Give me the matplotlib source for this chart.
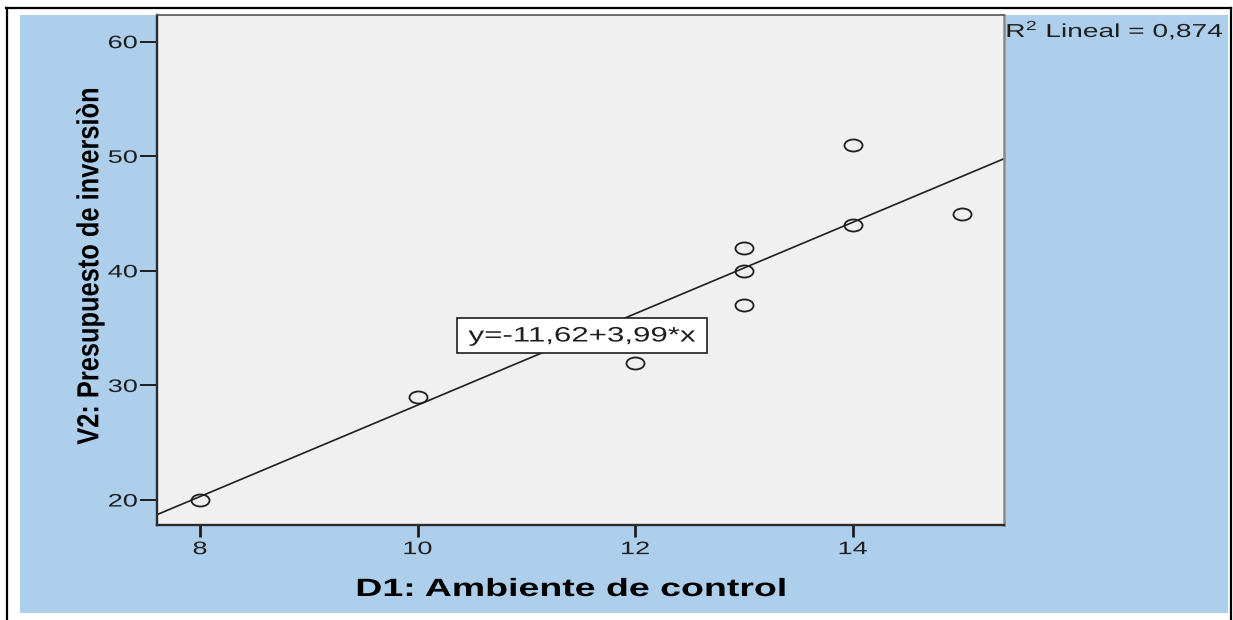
import numpy as np
import matplotlib
matplotlib.use("Agg")
import matplotlib.pyplot as plt
from matplotlib import font_manager
from matplotlib.patches import Rectangle
from matplotlib.lines import Line2D
from matplotlib.path import Path
from matplotlib.transforms import Affine2D
from matplotlib.patheffects import AbstractPathEffect

# --- data -------------------------------------------------------------
ambiente = [8, 10, 12, 13, 13, 13, 14, 14, 15]          # D1: Ambiente de control
presupuesto = [20, 29, 32, 37, 40, 42, 44, 51, 45]     # V2: Presupuesto de inversión
intercept = -11.62
slope = 3.99
r2 = 0.874
x_ticks = [8, 10, 12, 14]
y_ticks = [20, 30, 40, 50, 60]
x_title = "D1: Ambiente de control"
y_title = "V2: Presupuesto de inversiòn"


def comma(v):
    return f"{v:.2f}".replace(".", ",")


eq_label = f"y={comma(intercept)}+{comma(slope)}*x"
r2_label = "R$^{2}$ Lineal = " + f"{r2:.3f}".replace(".", ",")

# --- fonts ------------------------------------------------------------
def has_font(name):
    try:
        font_manager.findfont(font_manager.FontProperties(family=name),
                              fallback_to_default=False)
        return True
    except Exception:
        return False


SANS = "Liberation Sans"
NARROW = "Liberation Sans Narrow" if has_font("Liberation Sans Narrow") else None
plt.rcParams["font.family"] = [SANS, "DejaVu Sans"]
plt.rcParams["mathtext.fontset"] = "custom"
plt.rcParams["mathtext.rm"] = SANS
plt.rcParams["mathtext.it"] = SANS + ":italic"
plt.rcParams["mathtext.bf"] = SANS + ":bold"


class Widen(AbstractPathEffect):
    """Draw glyphs stretched horizontally around a chosen anchor."""

    def __init__(self, factor=1.5, anchor="center"):
        super().__init__()
        self.factor = factor
        self.anchor = anchor

    def draw_path(self, renderer, gc, tpath, affine, rgbFace=None):
        ext = tpath.get_extents(affine)
        if self.anchor == "left":
            x0 = ext.x0
        elif self.anchor == "right":
            x0 = ext.x1
        else:
            x0 = 0.5 * (ext.x0 + ext.x1)
        t = affine + Affine2D().translate(-x0, 0).scale(self.factor, 1.0).translate(x0, 0)
        renderer.draw_path(gc, tpath, t, rgbFace)


WIDE = 1.5
INK = "#1e1e1e"
BLUE = "#aecfec"

W, H = 1233, 620
fig = plt.figure(figsize=(W / 100, H / 100), dpi=100, facecolor="white")

# blue chart panel and black outer frame
fig.add_artist(Rectangle((20 / W, 1 - 613 / H), 1208 / W, 598 / H,
                         transform=fig.transFigure, facecolor=BLUE,
                         edgecolor="none", zorder=0))
frame_kw = dict(transform=fig.transFigure, color="black", lw=1.6, zorder=1)
fig.add_artist(Line2D([6 / W, 1231 / W], [1 - 7.5 / H, 1 - 7.5 / H], **frame_kw))
fig.add_artist(Line2D([7 / W, 7 / W], [0, 1 - 7.5 / H], **frame_kw))
fig.add_artist(Line2D([1230.5 / W, 1230.5 / W], [0, 1 - 7.5 / H], **frame_kw))

ax = fig.add_axes([157 / W, 1 - 525 / H, 847 / W, 510 / H])
ax.set_facecolor("#f0f0f0")
ax.set_xlim(7.605, 15.39)
ax.set_ylim(17.82, 62.33)

# regression line
xs = np.array(ax.get_xlim())
ax.plot(xs, intercept + slope * xs, color=INK, lw=1.2, zorder=2, solid_capstyle="butt")

# hollow markers, widened like the rest of the chart
ellipse = Path.unit_circle().transformed(Affine2D().scale(WIDE, 1.0))
ax.plot(ambiente, presupuesto, linestyle="none", marker=ellipse, markersize=13,
        markerfacecolor="none", markeredgecolor=INK, markeredgewidth=1.3, zorder=3)

# equation label in a white box
ax.add_patch(Rectangle((10.362, 32.84), 12.66 - 10.362, 35.89 - 32.84,
                       facecolor="white", edgecolor=INK, lw=1.2, zorder=4))
ax.text((10.362 + 12.66) / 2, (32.84 + 35.89) / 2 - 0.05, eq_label, fontsize=15,
        ha="center", va="center", color=INK, zorder=5,
        path_effects=[Widen(WIDE, "center")])

# R² note outside the plot area
fig.text(1006 / W, 1 - 37 / H, r2_label, fontsize=13.5, ha="left", va="baseline",
         color=INK, path_effects=[Widen(WIDE, "left")])

# axes styling
for side, col, lw in [("left", "#2a2a2a", 1.7), ("bottom", "#2a2a2a", 1.7),
                      ("top", "#555555", 1.2), ("right", "#8a8a8a", 1.8)]:
    ax.spines[side].set_color(col)
    ax.spines[side].set_linewidth(lw)

ax.set_xticks(x_ticks)
ax.set_yticks(y_ticks)
ax.tick_params(axis="y", length=12, width=1.4, pad=2, colors=INK, labelsize=13)
ax.tick_params(axis="x", length=8.6, width=2.0, pad=3, colors=INK, labelsize=13)
for lbl in ax.get_yticklabels():
    lbl.set_path_effects([Widen(WIDE, "right")])
for lbl in ax.get_xticklabels():
    lbl.set_path_effects([Widen(WIDE, "center")])

ax.set_xlabel(x_title, fontsize=18, fontweight="bold", color="black",
              path_effects=[Widen(WIDE, "center")])
ax.xaxis.set_label_coords((571.5 - 157) / 847, (525 - 577) / 510)

if NARROW:
    ax.set_ylabel(y_title, fontsize=22, fontweight="bold", color="black",
                  family=[NARROW, "DejaVu Sans"])
else:
    ax.set_ylabel(y_title, fontsize=18.3, fontweight="bold", color="black",
                  path_effects=[Widen(1.2, "center")])
ax.yaxis.set_label_coords((102 - 157) / 847, (525 - 266.5) / 510)

fig.savefig("out.png", dpi=100, facecolor="white")
